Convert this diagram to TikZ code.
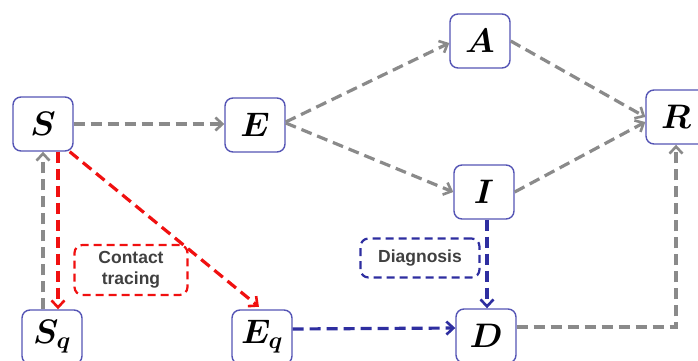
\documentclass[tikz,border=0pt]{standalone}
\usepackage{fix-cm}
\usepackage{fontspec}
\setsansfont{Liberation Sans}
\usetikzlibrary{arrows.meta,calc}
\definecolor{boxblue}{HTML}{5555B5}
\definecolor{lgray}{HTML}{8A8A8A}
\definecolor{dblue}{HTML}{2E2EA0}
\definecolor{tred}{HTML}{F01010}
\definecolor{tgray}{HTML}{404040}
\begin{document}
\begin{tikzpicture}[x=1pt,y=-1pt,
  state/.style={draw=boxblue,line width=1.4pt,rounded corners=8pt,fill=white,
    minimum width=60pt,minimum height=54pt,inner sep=0pt,
    font=\fontsize{34}{34}\selectfont\boldmath},
  lab/.style={rounded corners=8pt,line width=2.2pt,dash pattern=on 8pt off 5pt,
    align=center,text=tgray,font=\sffamily\bfseries\fontsize{17.5}{21}\selectfont,inner sep=0pt},
  flow/.style={line width=3.2pt,dash pattern=on 11pt off 6pt,
    -{Straight Barb[length=7pt,width=13pt,line width=2.6pt]}},
  gflow/.style={flow,draw=lgray},
  rflow/.style={flow,draw=tred},
  bflow/.style={flow,draw=dblue}]
\useasboundingbox (0,0) rectangle (698,361);
\node[state] (S) at (43,124) {$S$};
\node[state] (E) at (255,125) {$E$};
\node[state] (A) at (480,41) {$A$};
\node[state] (I) at (484,192) {$I$};
\node[state] (R) at (676,117) {$R$};
\node[state] (Sq) at (52,337) {$S_q$};
\node[state] (Eq) at (262,337) {$E_q$};
\node[state] (D) at (486,336) {$D$};
\node[lab,draw=tred,minimum width=113pt,minimum height=50pt] (ct) at (131,270) {Contact\\tracing};
\node[lab,draw=dblue,minimum width=119pt,minimum height=39pt] (dg) at (420,258) {Diagnosis};
\draw[gflow] (S.east) -- (S.east -| E.west);
\draw[gflow] ([yshift=3pt]E.east) -- ([yshift=-2pt]A.west);
\draw[gflow] ([yshift=2pt]E.east) -- (I.west);
\draw[gflow] (A.east) -- (R.west);
\draw[gflow] (I.east) -- ([yshift=-5pt]R.west);
\draw[gflow] ([yshift=9pt]D.east) -| (R.south);
\draw[gflow] (S.south |- Sq.north) -- (S.south);
\draw[rflow] ([xshift=15pt]S.south) -- ([xshift=15pt]S.south |- Sq.north);
\draw[rflow,shorten >=4pt] ([xshift=-4pt]S.south east) -- (Eq.north);
\draw[bflow] ([yshift=8pt]Eq.east) -- ([yshift=8pt]D.west);
\draw[bflow] ([xshift=3pt]I.south) -- ([xshift=1pt]D.north);
\end{tikzpicture}
\end{document}
